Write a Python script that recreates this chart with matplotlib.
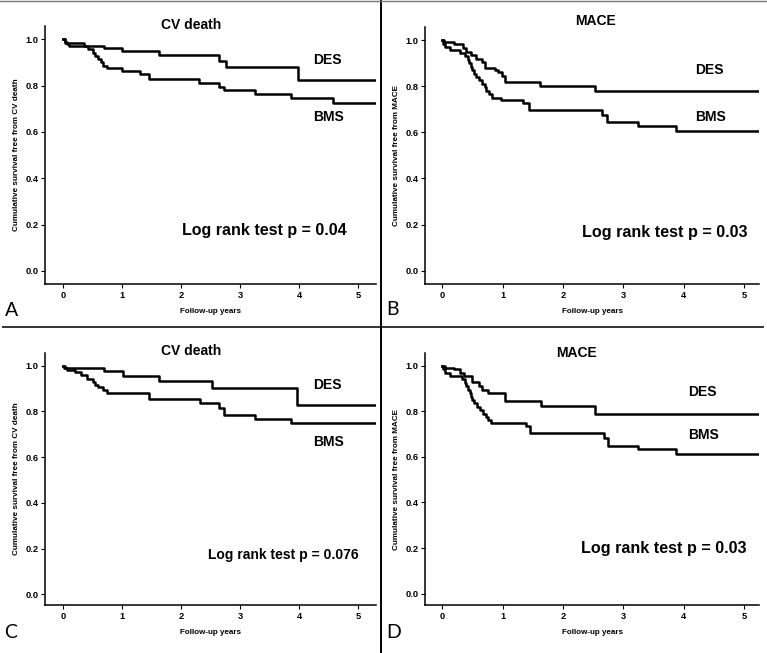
import matplotlib
matplotlib.use("Agg")
import matplotlib.pyplot as plt
from matplotlib.lines import Line2D

plt.rcParams["font.family"] = ["Liberation Sans", "DejaVu Sans"]

# Kaplan-Meier step data (time in years, survival)
A_DES_T = [0, 0.03, 0.35, 0.69, 1.0, 1.62, 2.64, 2.77, 3.98, 5.3]
A_DES_S = [1.0, 0.986, 0.971, 0.961, 0.951, 0.932, 0.908, 0.879, 0.824, 0.824]
A_BMS_T = [0, 0.03, 0.06, 0.1, 0.43, 0.5, 0.55, 0.6, 0.64, 0.68, 0.75, 1.0, 1.31, 1.46,
           2.31, 2.65, 2.72, 3.25, 3.87, 4.57, 5.3]
A_BMS_S = [1.0, 0.99, 0.98, 0.97, 0.957, 0.943, 0.929, 0.914, 0.9, 0.886, 0.875, 0.865,
           0.85, 0.827, 0.81, 0.795, 0.78, 0.764, 0.745, 0.724, 0.724]

B_DES_T = [0, 0.03, 0.2, 0.35, 0.4, 0.48, 0.55, 0.65, 0.7, 0.87, 0.93, 0.99, 1.04,
           1.62, 2.52, 5.25]
B_DES_S = [1.0, 0.99, 0.985, 0.964, 0.95, 0.935, 0.92, 0.905, 0.88, 0.87, 0.86, 0.845,
           0.82, 0.8, 0.777, 0.777]
B_BMS_T = [0, 0.02, 0.05, 0.12, 0.3, 0.38, 0.42, 0.45, 0.47, 0.5, 0.52, 0.55, 0.6, 0.65,
           0.7, 0.73, 0.78, 0.82, 0.97, 1.34, 1.44, 2.65, 2.73, 3.24, 3.87, 5.25]
B_BMS_S = [1.0, 0.985, 0.97, 0.957, 0.943, 0.93, 0.915, 0.9, 0.885, 0.87, 0.855, 0.84,
           0.825, 0.81, 0.795, 0.78, 0.765, 0.749, 0.739, 0.725, 0.695, 0.675, 0.645,
           0.627, 0.607, 0.607]

C_DES_T = [0, 0.03, 0.7, 1.02, 1.63, 2.53, 3.97, 5.3]
C_DES_S = [1.0, 0.99, 0.975, 0.956, 0.933, 0.903, 0.828, 0.828]
C_BMS_T = [0, 0.02, 0.07, 0.2, 0.3, 0.4, 0.5, 0.55, 0.6, 0.68, 0.75, 1.45, 2.32, 2.65,
           2.73, 3.25, 3.87, 5.3]
C_BMS_S = [1.0, 0.99, 0.98, 0.97, 0.957, 0.943, 0.93, 0.915, 0.905, 0.895, 0.88, 0.852,
           0.837, 0.816, 0.785, 0.767, 0.75, 0.75]

D_DES_T = [0, 0.05, 0.2, 0.3, 0.36, 0.5, 0.6, 0.65, 0.75, 1.04, 1.63, 2.52, 5.25]
D_DES_S = [1.0, 0.99, 0.985, 0.97, 0.955, 0.93, 0.91, 0.895, 0.88, 0.847, 0.822, 0.79, 0.79]
D_BMS_T = [0, 0.02, 0.05, 0.12, 0.32, 0.37, 0.4, 0.43, 0.46, 0.48, 0.5, 0.53, 0.57, 0.62,
           0.67, 0.72, 0.75, 0.8, 1.39, 1.45, 2.68, 2.75, 3.24, 3.87, 5.25]
D_BMS_S = [1.0, 0.985, 0.97, 0.955, 0.94, 0.925, 0.91, 0.895, 0.88, 0.865, 0.85, 0.835,
           0.82, 0.805, 0.79, 0.775, 0.76, 0.75, 0.735, 0.705, 0.685, 0.65, 0.633, 0.613,
           0.613]

TITLES = ["CV death", "MACE", "CV death", "MACE"]
YLABELS = ["Cumulative survival free from CV death", "Cumulative survival free from MACE",
           "Cumulative survival free from CV death", "Cumulative survival free from MACE"]
PVALUES = ["Log rank test p = 0.04", "Log rank test p = 0.03",
           "Log rank test p = 0.076", "Log rank test p = 0.03"]
LETTERS = ["A", "B", "C", "D"]
X_TICKS = [0, 1, 2, 3, 4, 5]
Y_TICKS = [0.0, 0.2, 0.4, 0.6, 0.8, 1.0]

panels = [
    dict(rect=[0.0591, 0.5655, 0.4308, 0.3945], xlim=(-0.3, 5.3), ylim=(-0.055, 1.057),
         des=(A_DES_T, A_DES_S), bms=(A_BMS_T, A_BMS_S),
         title_xy=(2.17, 1.062), des_xy=(4.24, 0.91), bms_xy=(4.24, 0.666),
         p_xy=(2.02, 0.173), p_size=11.5),
    dict(rect=[0.5546, 0.5651, 0.4355, 0.394], xlim=(-0.28, 5.25), ylim=(-0.058, 1.058),
         des=(B_DES_T, B_DES_S), bms=(B_BMS_T, B_BMS_S),
         title_xy=(2.54, 1.084), des_xy=(4.18, 0.87), bms_xy=(4.18, 0.667),
         p_xy=(2.31, 0.166), p_size=11.6),
    dict(rect=[0.0591, 0.0735, 0.4308, 0.3855], xlim=(-0.3, 5.3), ylim=(-0.047, 1.054),
         des=(C_DES_T, C_DES_S), bms=(C_BMS_T, C_BMS_S),
         title_xy=(2.17, 1.064), des_xy=(4.24, 0.916), bms_xy=(4.24, 0.667),
         p_xy=(2.46, 0.172), p_size=10.0),
    dict(rect=[0.5546, 0.0735, 0.4355, 0.3855], xlim=(-0.28, 5.25), ylim=(-0.05, 1.055),
         des=(D_DES_T, D_DES_S), bms=(D_BMS_T, D_BMS_S),
         title_xy=(2.23, 1.058), des_xy=(4.07, 0.883), bms_xy=(4.07, 0.696),
         p_xy=(2.30, 0.2), p_size=11.6),
]
LETTER_POS = [(0.006, 0.512), (0.503, 0.513), (0.006, 0.019), (0.503, 0.019)]

fig = plt.figure(figsize=(7.67, 6.53), dpi=100)

for i, p in enumerate(panels):
    ax = fig.add_axes(p["rect"])
    ax.step(p["des"][0], p["des"][1], where="post", color="black", lw=1.8)
    ax.step(p["bms"][0], p["bms"][1], where="post", color="black", lw=1.8)
    ax.set_xlim(*p["xlim"])
    ax.set_ylim(*p["ylim"])
    ax.set_xticks(X_TICKS)
    ax.set_yticks(Y_TICKS)
    ax.set_xticklabels([str(v) for v in X_TICKS], fontweight="bold", fontsize=6.7)
    ax.set_yticklabels([f"{v:.1f}" for v in Y_TICKS], fontweight="bold", fontsize=6.7)
    ax.tick_params(length=3, width=0.8, pad=2)
    for s in ["top", "right"]:
        ax.spines[s].set_visible(False)
    for s in ["left", "bottom"]:
        ax.spines[s].set_linewidth(1.1)
    ax.set_xlabel("Follow-up years", fontsize=5.8, fontweight="bold", labelpad=6)
    ax.set_ylabel(YLABELS[i], fontsize=5.9, fontweight="bold", labelpad=4)
    ax.text(*p["title_xy"], TITLES[i], ha="center", va="center", fontsize=10,
            fontweight="bold", clip_on=False)
    ax.text(*p["des_xy"], "DES", ha="left", va="center", fontsize=10, fontweight="bold")
    ax.text(*p["bms_xy"], "BMS", ha="left", va="center", fontsize=10, fontweight="bold")
    ax.text(*p["p_xy"], PVALUES[i], ha="left", va="center", fontsize=p["p_size"],
            fontweight="bold")
    fig.text(*LETTER_POS[i], LETTERS[i], fontsize=14, family=["Lato", "DejaVu Sans"],
             ha="left", va="bottom")

# panel dividers
fig.add_artist(Line2D([0.004, 0.995], [0.4985, 0.4985], transform=fig.transFigure,
                      color="#333333", lw=1.4))
fig.add_artist(Line2D([0.4963, 0.4963], [0.0, 1.0], transform=fig.transFigure,
                      color="black", lw=1.4))
fig.add_artist(Line2D([0.0, 1.0], [0.998, 0.998], transform=fig.transFigure,
                      color="#777777", lw=1.0))

fig.savefig("out.png", dpi=100)
